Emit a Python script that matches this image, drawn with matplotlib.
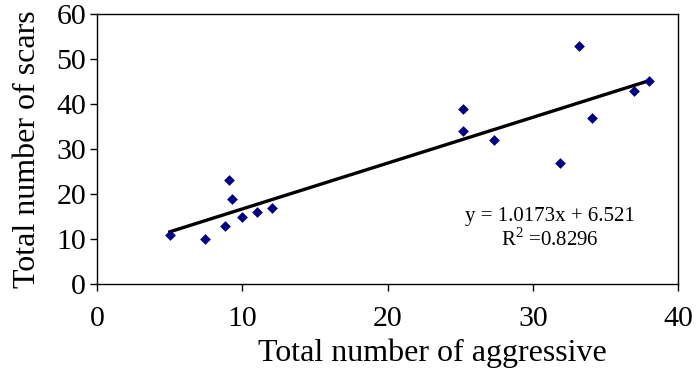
import numpy as np
import matplotlib
matplotlib.use("Agg")
import matplotlib.pyplot as plt

matplotlib.rcParams["font.family"] = "Liberation Serif"
matplotlib.rcParams["mathtext.fontset"] = "custom"
matplotlib.rcParams["mathtext.rm"] = "Liberation Serif"

# Aggressive encounters vs. scar counts per individual
aggressive = [5.0, 7.4, 8.8, 9.1, 9.3, 10.0, 11.0, 12.0,
              25.2, 25.2, 27.3, 31.9, 33.2, 34.1, 37.0, 38.0]
scars = [11.0, 9.9, 12.9, 23.1, 19.0, 14.9, 16.1, 17.0,
         38.9, 33.9, 31.9, 27.0, 53.0, 36.8, 43.0, 45.1]

# Linear trend reported for the data
slope = 1.0173
intercept = 6.521
r_squared = 0.8296

x_ticks = [0, 10, 20, 30, 40]
y_ticks = [0, 10, 20, 30, 40, 50, 60]

fig = plt.figure(figsize=(6.99, 3.82), dpi=100)
ax = fig.add_axes([97.3 / 699, 1 - 284 / 382, (678 - 97.3) / 699, (284 - 14) / 382])

ax.scatter(aggressive, scars, marker="D", s=30, color="#000080", zorder=3,
           linewidths=0)

trend_x = np.array([min(aggressive), max(aggressive)])
ax.plot(trend_x, slope * trend_x + intercept, color="black", lw=2.4, zorder=2)

ax.set_xlim(0, 40)
ax.set_ylim(0, 60)
ax.set_xticks(x_ticks)
ax.set_yticks(y_ticks)
ax.tick_params(axis="both", direction="out", length=5, width=1,
               labelsize=21.5, colors="black")
ax.tick_params(axis="x", pad=11)
ax.tick_params(axis="y", pad=3)
for side in ax.spines.values():
    side.set_linewidth(1)
    side.set_color("black")

ax.set_xlabel("Total number of aggressive", fontsize=23, labelpad=2)
ax.xaxis.set_label_coords(23.1 / 40, -0.2)
ax.set_ylabel("Total number of scars", fontsize=23, labelpad=10)

ax.text(31.2, 14.9, f"y = {slope}x + {intercept}", fontsize=15,
        ha="center", va="center")
ax.text(31.2, 9.8, f"R$^{{\\mathrm{{2}}}}$ ={r_squared}", fontsize=15,
        ha="center", va="center")

fig.savefig("out.png", dpi=100)
